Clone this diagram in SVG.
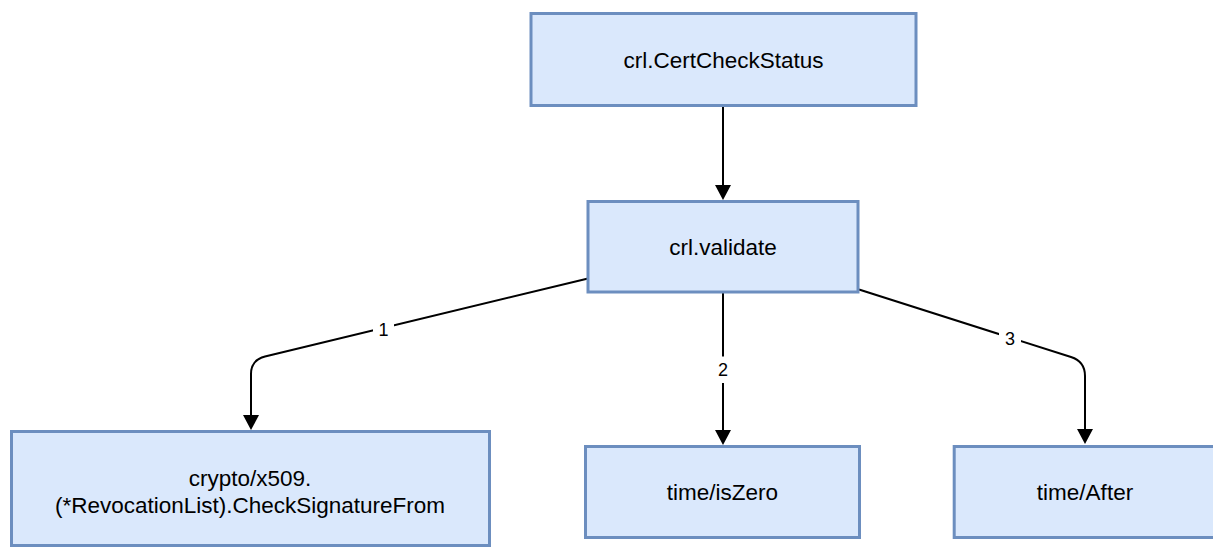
<svg xmlns="http://www.w3.org/2000/svg" width="1213" height="548" viewBox="0 0 1213 548">
  <style>
    .box { fill: #dae8fc; stroke: #6c8ebf; stroke-width: 3; }
    .lbl { font-family: "Liberation Sans", Arial, sans-serif; font-size: 22.5px; fill: #000000; text-anchor: middle; }
    .edge { fill: none; stroke: #000000; stroke-width: 2; }
    .elbl { font-family: "Liberation Sans", Arial, sans-serif; font-size: 18px; fill: #000000; text-anchor: middle; }
    .elbg { fill: #ffffff; }
  </style>
  <defs>
    <marker id="arrow" markerUnits="userSpaceOnUse" markerWidth="16" markerHeight="17" refX="5" refY="8" orient="auto">
      <path d="M0,0 L15,8 L0,16 z" fill="#000000"/>
    </marker>
  </defs>
  <rect width="1213" height="548" fill="#ffffff"/>

  <g id="connectors">
    <path class="edge" d="M723,107 L723,190" marker-end="url(#arrow)"/>
    <path class="edge" d="M588,278.5 L265,356.5 Q251,360 251,374 L251,420" marker-end="url(#arrow)"/>
    <path class="edge" d="M723,293 L723,435" marker-end="url(#arrow)"/>
    <path class="edge" d="M859,289.5 L1071,357 Q1085,361.5 1085,376 L1085,434" marker-end="url(#arrow)"/>
    <g id="label-1">
      <rect class="elbg" x="373" y="317" width="21" height="26"/>
      <text class="elbl" x="383.5" y="336">1</text>
    </g>
    <g id="label-2">
      <rect class="elbg" x="712" y="356.5" width="22" height="26.5"/>
      <text class="elbl" x="723" y="376">2</text>
    </g>
    <g id="label-3">
      <rect class="elbg" x="999" y="326" width="22" height="26"/>
      <text class="elbl" x="1010" y="345">3</text>
    </g>
  </g>

  <g id="node-certcheckstatus">
    <rect class="box" x="531" y="13.5" width="385" height="92"/>
    <text class="lbl" x="723.5" y="68">crl.CertCheckStatus</text>
  </g>
  <g id="node-validate">
    <rect class="box" x="588" y="201.5" width="270" height="90.5"/>
    <text class="lbl" x="723" y="255">crl.validate</text>
  </g>
  <g id="node-checksignature">
    <rect class="box" x="11.5" y="431.5" width="478" height="114"/>
    <text class="lbl" x="250" y="486">crypto/x509.</text>
    <text class="lbl" x="250" y="513">(*RevocationList).CheckSignatureFrom</text>
  </g>
  <g id="node-iszero">
    <rect class="box" x="585.5" y="446.5" width="274" height="91"/>
    <text class="lbl" x="722.5" y="500">time/isZero</text>
  </g>
  <g id="node-after">
    <rect class="box" x="954.2" y="446.5" width="262" height="91"/>
    <text class="lbl" x="1085" y="499.5">time/After</text>
  </g>
</svg>
